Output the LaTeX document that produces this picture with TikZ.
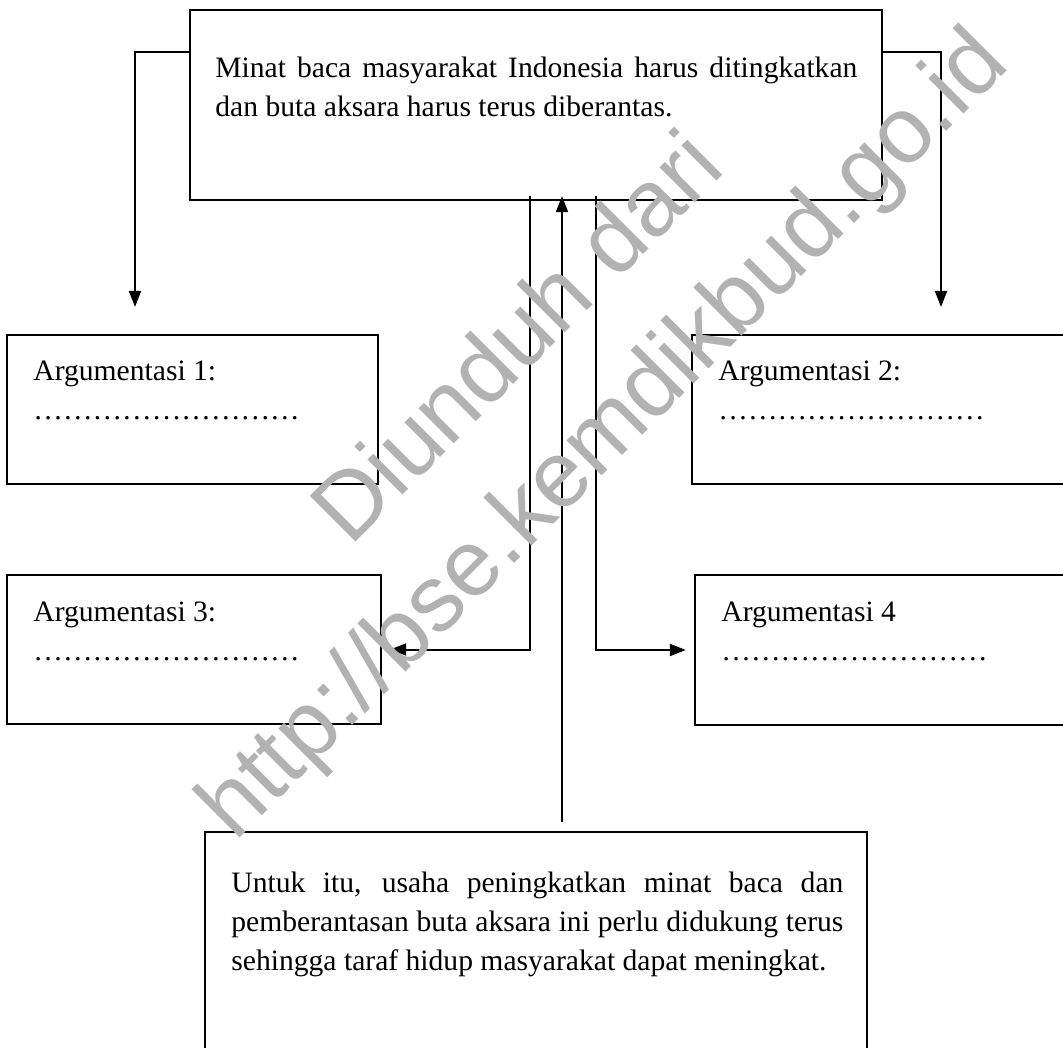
\documentclass[tikz,border=0pt]{standalone}
\usepackage{fontspec}
\setmainfont{Liberation Serif}
\newfontfamily\wmfont{Liberation Sans}
\usetikzlibrary{arrows.meta,positioning,calc}
\tikzset{
>={Triangle[length=8pt,width=6pt]},
  kotak/.style={
    rectangle,
    draw=black, line width=1.15pt,
    inner sep=0pt},
  isi/.style={
    inner sep=0pt,
    anchor=north west,
    font=\fontsize{14.8}{19.5}\selectfont},
  line/.style={draw, line width=1pt, ->},
}

\begin{document}
\begin{tikzpicture}[
    x=0.5pt, y=-0.5pt,
    watermark/.style={text=black!30, inner sep=0pt,
      font=\wmfont\fontsize{47}{47}\selectfont,
      rotate=45, anchor=base west}
    ]
    \useasboundingbox (0,0) rectangle (1063,1047);

    % Boxes
    \node[kotak, minimum width=346pt, minimum height=95pt] (tesis) at (536,105) {};
    \node[kotak, minimum width=185.5pt, minimum height=74.5pt] (arg1) at (192.5,409.5) {};
    \node[kotak, minimum width=194pt, minimum height=74.5pt] (arg2) at (886,409.5) {};
    \node[kotak, minimum width=187pt, minimum height=74.5pt] (arg3) at (194,649.5) {};
    \node[kotak, minimum width=192.5pt, minimum height=75pt] (arg4) at (887.5,650) {};
    \node[kotak, minimum width=331pt, minimum height=114pt] (simpulan) at (536,946) {};

    % Texts
    \node[isi, text width=321pt, align=justify] (teks tesis) at (215,57)
         {Minat baca masyarakat Indonesia harus ditingkatkan\linebreak
          dan buta aksara harus terus diberantas.};
    \node[isi, align=left] (teks arg1) at (33,361) {Argumentasi 1:\\………………………};
    \node[isi, align=left] (teks arg2) at (718,361) {Argumentasi 2:\\………………………};
    \node[isi, align=left] (teks arg3) at (33,601) {Argumentasi 3:\\………………………};
    \node[isi, align=left] (teks arg4) at (721,601) {Argumentasi 4\\………………………};
    \node[isi, text width=306pt, align=justify] (teks simpulan) at (231,872)
         {Untuk itu, usaha peningkatkan minat baca dan\linebreak
          pemberantasan buta aksara ini perlu didukung terus\linebreak
          sehingga taraf hidup masyarakat dapat meningkat.};

    % Arrows
    \coordinate (kiri) at (135,307);
    \coordinate (kanan) at (941,307);
    \draw[line] ([yshift=-21.5pt]tesis.north west) -| (kiri);
    \draw[line] ([yshift=-21.5pt]tesis.north east) -| (kanan);
    \draw[line, shorten >=4pt] ([xshift=-3pt,yshift=2.5pt]tesis.south) |- (arg3);
    \draw[line, shorten >=4pt] ([xshift=30pt,yshift=2.5pt]tesis.south) |- (arg4);
    \draw[line] ([xshift=13pt,yshift=4.5pt]simpulan.north)
         -- ([xshift=13pt,yshift=2.5pt]tesis.south);

    % Watermark
    \node[watermark] (unduh) at (350,548) {Diunduh dari};
    \node[watermark] (situs) at (235,843) {http://bse.kemdikbud.go.id};
\end{tikzpicture}
\end{document}
